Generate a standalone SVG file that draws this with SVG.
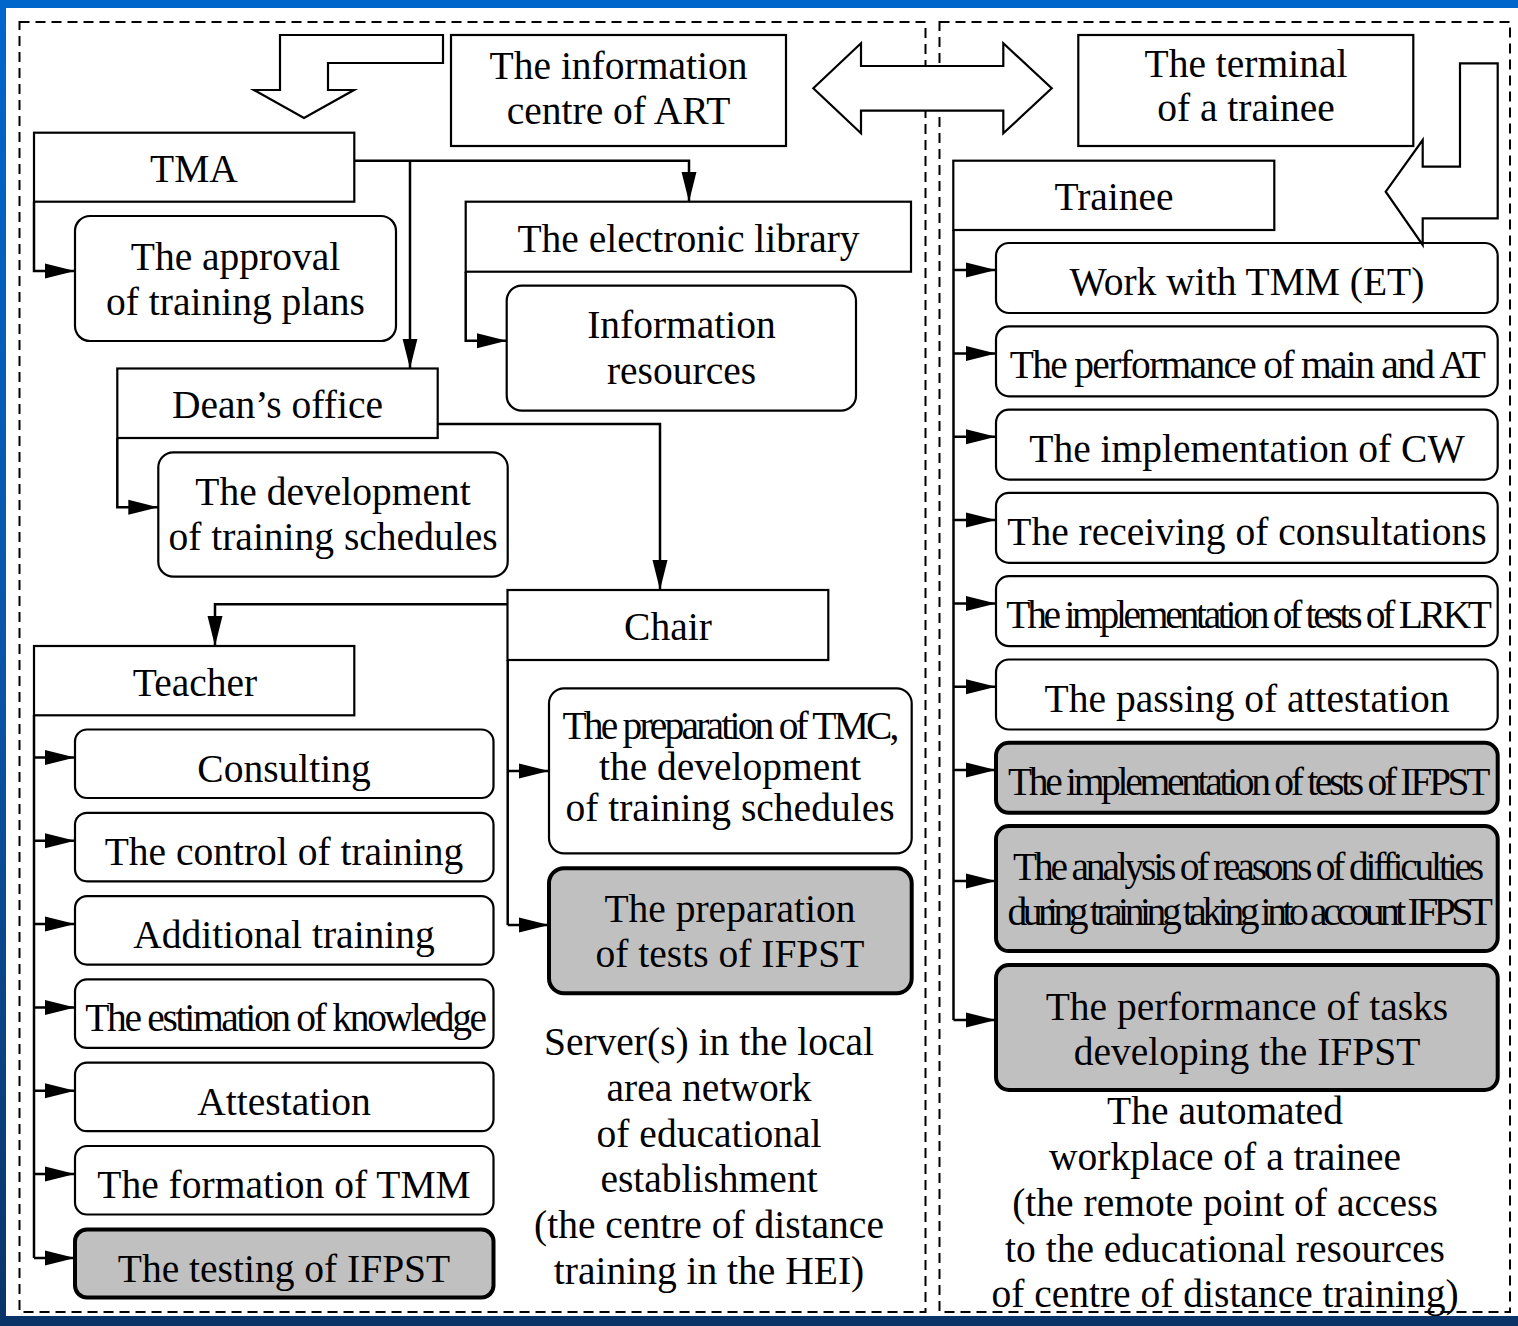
<svg xmlns="http://www.w3.org/2000/svg" width="1518" height="1326" viewBox="0 0 1518 1326">
<defs>
<linearGradient id="bg" x1="0" y1="0" x2="0" y2="1">
<stop offset="0" stop-color="#0066cc"/>
<stop offset="0.5" stop-color="#0a55a8"/>
<stop offset="1" stop-color="#0a3468"/>
</linearGradient>
<marker id="ah" markerUnits="userSpaceOnUse" markerWidth="30" markerHeight="16" refX="30" refY="8" orient="auto" viewBox="0 0 30 16">
<path d="M0,0.5 L30,8 L0,15.5 Z" fill="#000"/>
</marker>
<style>
.box{fill:#fff;stroke:#000;stroke-width:2.2}
.gbox{fill:#c0c0c0;stroke:#000;stroke-width:4}
.conn{fill:none;stroke:#000;stroke-width:2.5;marker-end:url(#ah)}
.line{fill:none;stroke:#000;stroke-width:2.5}
.dash{fill:none;stroke:#000;stroke-width:2;stroke-dasharray:10 6}
.bigarrow{fill:#fff;stroke:#000;stroke-width:2.2;stroke-linejoin:miter}
text{font-family:"Liberation Serif","Times New Roman",serif;font-size:39.5px;text-anchor:middle;fill:#000}
</style>
</defs>
<rect x="0" y="0" width="1518" height="1326" fill="url(#bg)"/>
<rect x="6" y="8" width="1512" height="1308" fill="#fff"/>
<g id="areas">
<rect class="dash" x="19.5" y="22" width="906" height="1290"/>
<rect class="dash" x="939.5" y="22" width="570.5" height="1290"/>
</g>
<g id="connectors">
<path class="conn" d="M354,160.7 H689 V201.7"/>
<path class="conn" d="M410,160.7 V368.5"/>
<path class="conn" d="M34,202 V271 H75"/>
<path class="conn" d="M465.7,271.7 V340.7 H506.7"/>
<path class="conn" d="M117.3,438 V507.3 H158.3"/>
<path class="conn" d="M437.7,424 H660 V590"/>
<path class="conn" d="M507.5,604.3 H215 V646"/>
<path class="line" d="M507.7,660 V925"/>
<path class="conn" d="M507.7,771 H549"/>
<path class="conn" d="M507.7,925 H549"/>
<path class="line" d="M34,715.3 V1258"/>
<path class="conn" d="M34,757.5 H75"/>
<path class="conn" d="M34,840.8 H75"/>
<path class="conn" d="M34,924.1 H75"/>
<path class="conn" d="M34,1007.4 H75"/>
<path class="conn" d="M34,1090.7 H75"/>
<path class="conn" d="M34,1174 H75"/>
<path class="conn" d="M34,1258 H75"/>
<path class="line" d="M953.5,230 V1020"/>
<path class="conn" d="M953.5,270 H996"/>
<path class="conn" d="M953.5,353.5 H996"/>
<path class="conn" d="M953.5,436.8 H996"/>
<path class="conn" d="M953.5,520.1 H996"/>
<path class="conn" d="M953.5,603.4 H996"/>
<path class="conn" d="M953.5,686.7 H996"/>
<path class="conn" d="M953.5,770 H996"/>
<path class="conn" d="M953.5,881 H996"/>
<path class="conn" d="M953.5,1020 H996"/>
</g>
<g id="info-centre">
<rect class="box" x="451" y="35" width="335" height="111"/>
<text x="618.5" y="79">The information</text>
<text x="618.5" y="124">centre of ART</text>
</g>
<g id="terminal">
<rect class="box" x="1078.3" y="35" width="335" height="111"/>
<text x="1246" y="77">The terminal</text>
<text x="1246" y="121">of a trainee</text>
</g>
<g id="arrow-down-left">
<polygon class="bigarrow" points="280,35 443,35 443,63 328,63 328,90 354,90 304,118 254,90 280,90"/>
</g>
<g id="arrow-double">
<polygon class="bigarrow" points="813.3,88.3 861,43.3 861,66 1003.3,66 1003.3,43.3 1051.7,88.3 1003.3,133.3 1003.3,110.7 861,110.7 861,133.3"/>
</g>
<g id="tma">
<rect class="box" x="34" y="132.7" width="320.3" height="69"/>
<text x="194" y="182">TMA</text>
</g>
<g id="approval">
<rect class="box" x="75" y="216" width="321" height="125" rx="15"/>
<text x="235.5" y="270">The approval</text>
<text x="235.5" y="315">of training plans</text>
</g>
<g id="library">
<rect class="box" x="465.7" y="201.7" width="445.3" height="70"/>
<text x="688.5" y="252">The electronic library</text>
</g>
<g id="info-resources">
<rect class="box" x="506.7" y="285.7" width="349.3" height="125" rx="15"/>
<text x="681.5" y="338">Information</text>
<text x="681.5" y="384">resources</text>
</g>
<g id="deans-office">
<rect class="box" x="117.3" y="368.5" width="320.4" height="69.5"/>
<text x="277.5" y="418">Dean’s office</text>
</g>
<g id="development">
<rect class="box" x="158.3" y="452.3" width="349.4" height="124.4" rx="15"/>
<text x="333" y="504.5">The development</text>
<text x="333" y="550">of training schedules</text>
</g>
<g id="chair">
<rect class="box" x="507.5" y="590" width="320.8" height="70"/>
<text x="668" y="639.5">Chair</text>
</g>
<g id="tmc">
<rect class="box" x="549" y="688.3" width="362.7" height="165" rx="15"/>
<text x="729.5" y="739" style="letter-spacing:-2.8px">The preparation of TMC,</text>
<text x="730" y="780">the development</text>
<text x="730" y="821">of training schedules</text>
</g>
<g id="prep-tests">
<rect class="gbox" x="549" y="868.3" width="362.7" height="125" rx="15"/>
<text x="730" y="922">The preparation</text>
<text x="730" y="967">of tests of IFPST</text>
</g>
<g id="teacher">
<rect class="box" x="34" y="646" width="320.3" height="69.3"/>
<text x="195" y="696">Teacher</text>
</g>
<g id="consulting">
<rect class="box" x="75" y="729.5" width="418.5" height="68.5" rx="12"/>
<text x="284" y="781.5">Consulting</text>
</g>
<g id="control">
<rect class="box" x="75" y="812.8" width="418.5" height="68.5" rx="12"/>
<text x="284" y="864.8">The control of training</text>
</g>
<g id="additional">
<rect class="box" x="75" y="896.1" width="418.5" height="68.5" rx="12"/>
<text x="284" y="948.1">Additional training</text>
</g>
<g id="estimation">
<rect class="box" x="75" y="979.4" width="418.5" height="68.5" rx="12"/>
<text x="285" y="1031.4" style="letter-spacing:-2.3px">The estimation of knowledge</text>
</g>
<g id="attestation">
<rect class="box" x="75" y="1062.7" width="418.5" height="68.5" rx="12"/>
<text x="284" y="1114.7">Attestation</text>
</g>
<g id="formation">
<rect class="box" x="75" y="1146" width="418.5" height="68.5" rx="12"/>
<text x="284" y="1198">The formation of TMM</text>
</g>
<g id="testing">
<rect class="gbox" x="75" y="1229.5" width="418.5" height="68" rx="12"/>
<text x="284" y="1282">The testing of IFPST</text>
</g>
<g id="server-caption">
<text x="709" y="1055">Server(s) in the local</text>
<text x="709" y="1101">area network</text>
<text x="709" y="1147">of educational</text>
<text x="709" y="1192">establishment</text>
<text x="709" y="1238">(the centre of distance</text>
<text x="709" y="1284">training in the HEI)</text>
</g>
<g id="trainee">
<rect class="box" x="953.3" y="160.7" width="321" height="69.3"/>
<text x="1114" y="210">Trainee</text>
</g>
<g id="work-tmm">
<rect class="box" x="996" y="243" width="501.7" height="70" rx="13"/>
<text x="1247" y="295">Work with TMM (ET)</text>
</g>
<g id="performance-main">
<rect class="box" x="996" y="326.3" width="501.7" height="70" rx="13"/>
<text x="1247" y="378.3" style="letter-spacing:-1.7px">The performance of main and AT</text>
</g>
<g id="cw">
<rect class="box" x="996" y="409.6" width="501.7" height="70" rx="13"/>
<text x="1247" y="461.6">The implementation of CW</text>
</g>
<g id="consultations">
<rect class="box" x="996" y="492.9" width="501.7" height="70" rx="13"/>
<text x="1247" y="544.9">The receiving of consultations</text>
</g>
<g id="lrkt">
<rect class="box" x="996" y="576.2" width="501.7" height="70" rx="13"/>
<text x="1247.5" y="628.2" style="letter-spacing:-3.3px">The implementation of tests of LRKT</text>
</g>
<g id="passing">
<rect class="box" x="996" y="659.5" width="501.7" height="70" rx="13"/>
<text x="1247" y="711.5">The passing of attestation</text>
</g>
<g id="tests-ifpst">
<rect class="gbox" x="996" y="742.8" width="501.7" height="70" rx="13"/>
<text x="1247.5" y="794.8" style="letter-spacing:-3.3px">The implementation of tests of IFPST</text>
</g>
<g id="analysis">
<rect class="gbox" x="996" y="826.1" width="501.7" height="125" rx="13"/>
<text x="1247" y="880" style="letter-spacing:-3.2px">The analysis of reasons of difficulties</text>
<text x="1248" y="925" style="letter-spacing:-4.4px">during training taking into account IFPST</text>
</g>
<g id="tasks">
<rect class="gbox" x="996" y="965" width="501.7" height="125" rx="13"/>
<text x="1247" y="1020">The performance of tasks</text>
<text x="1247" y="1065">developing the IFPST</text>
</g>
<g id="arrow-right-bent">
<polygon class="bigarrow" points="1460,63.3 1497.7,63.3 1497.7,218.3 1422.7,218.3 1422.7,245 1385.7,191.7 1422.7,140 1422.7,166.7 1460,166.7"/>
</g>
<g id="workplace-caption">
<text x="1225" y="1124">The automated</text>
<text x="1225" y="1170">workplace of a trainee</text>
<text x="1225" y="1216">(the remote point of access</text>
<text x="1225" y="1262">to the educational resources</text>
<text x="1225" y="1307">of centre of distance training)</text>
</g>
</svg>
